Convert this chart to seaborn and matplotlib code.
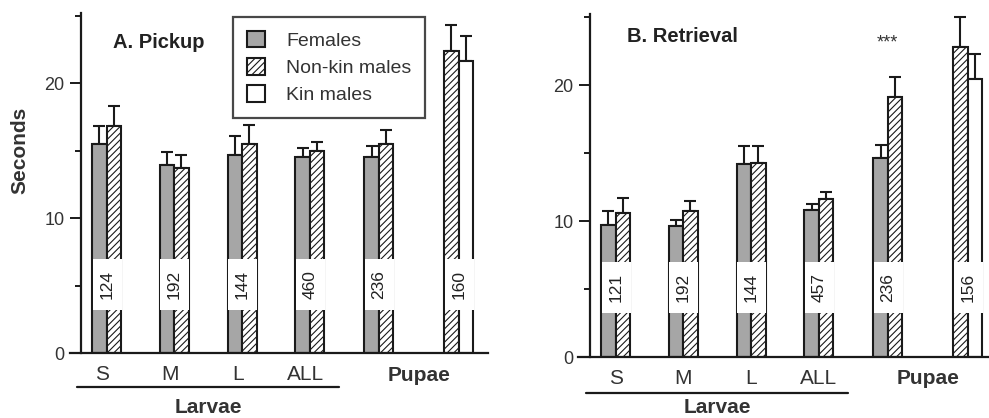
import numpy as np
import matplotlib
matplotlib.use("Agg")
import matplotlib.pyplot as plt
import seaborn as sns
from matplotlib.patches import Patch, Rectangle

# ---- data (seconds, mean and SE) ----
larvae_labels = ["S", "M", "L", "ALL"]
series_names = ["Females", "Non-kin males", "Kin males"]

pickup_female = [15.5, 13.9, 14.7, 14.5, 14.5]
pickup_female_se = [1.3, 1.0, 1.4, 0.7, 0.8]
pickup_nonkin = [16.8, 13.7, 15.5, 15.0, 15.5, 22.4]
pickup_nonkin_se = [1.5, 1.0, 1.4, 0.6, 1.0, 1.9]
pickup_kin = [21.6]
pickup_kin_se = [1.9]
pickup_n = [124, 192, 144, 460, 236, 160]

retr_female = [9.7, 9.6, 14.2, 10.8, 14.6]
retr_female_se = [1.0, 0.5, 1.3, 0.45, 1.0]
retr_nonkin = [10.6, 10.7, 14.3, 11.6, 19.1, 22.8]
retr_nonkin_se = [1.1, 0.8, 1.2, 0.5, 1.5, 2.2]
retr_kin = [20.45]
retr_kin_se = [1.85]
retr_n = [121, 192, 144, 457, 236, 156]

# group centres on the x axis (S, M, L, ALL, pupae F/NK, pupae NK/K)
group_pos = np.array([1.77, 6.42, 11.11, 15.79, 20.54, 26.05])

sns.set_style("ticks")
plt.rcParams["font.family"] = ["Liberation Sans", "DejaVu Sans"]
plt.rcParams["hatch.linewidth"] = 0.8

FEM_COL = "#a6a6a6"
EDGE = "#1a1a1a"
W, H = 989, 418

fig = plt.figure(figsize=(W / 100, H / 100), dpi=100)
fig.patch.set_facecolor("white")


def draw_panel(ax, fem, fem_se, nk, nk_se, kin, kin_se, ns, title, title_xy,
               xlim, tick_shift, line_y, larvae_y, pupae_y, stars=False):
    fem_x = group_pos[:5] - 0.5
    nk_x = np.r_[group_pos[:5] + 0.5, group_pos[5] - 0.5]
    kin_x = group_pos[5:] + 0.5

    for xs, ys, col, hatch in [(fem_x, fem, FEM_COL, None),
                               (nk_x, nk, "white", "/////"),
                               (kin_x, kin, "white", None)]:
        xs = np.asarray(xs)
        nat = np.min(np.diff(np.unique(xs))) if len(xs) > 1 else 1.0
        sns.barplot(x=xs, y=ys, native_scale=True, orient="x", errorbar=None,
                    color=col, saturation=1, width=1.0 / nat,
                    edgecolor=EDGE, linewidth=1.5, hatch=hatch, ax=ax, zorder=2)

    # upper error bars
    for xs, ys, se in [(fem_x, fem, fem_se), (nk_x, nk, nk_se), (kin_x, kin, kin_se)]:
        ax.errorbar(xs, ys, yerr=[np.zeros(len(se)), se], fmt="none",
                    ecolor=EDGE, elinewidth=1.5, capsize=4, capthick=1.5,
                    zorder=1, clip_on=False)

    # white boxes carrying the sample sizes
    for g, n in zip(group_pos, ns):
        ax.add_patch(Rectangle((g - 0.94, 3.2), 2.0, 3.8, facecolor="white",
                               edgecolor="none", zorder=3))
        ax.text(g, 5.1, str(n), rotation=90, ha="center", va="center",
                fontsize=12.5, color="#222222", zorder=4)

    ax.set_xlim(*xlim)
    ax.set_ylim(0, 25.2)
    ax.set_yticks([0, 10, 20])
    ax.set_yticks([5, 15, 25], minor=True)
    ax.tick_params(axis="y", which="major", length=8, width=1.4, labelsize=13,
                   pad=4, colors=EDGE, labelcolor="#333333")
    ax.tick_params(axis="y", which="minor", length=4, width=1.4, colors=EDGE)
    ax.set_xticks(group_pos[:4] + tick_shift)
    ax.set_xticklabels(larvae_labels)
    ax.tick_params(axis="x", length=0, labelsize=15, pad=9, labelcolor="#333333")
    ax.spines["left"].set_position(("data", 0))
    ax.spines["left"].set_bounds(0, 25.2)
    for s in ["left", "bottom"]:
        ax.spines[s].set_linewidth(1.6)
        ax.spines[s].set_color(EDGE)
    for s in ["top", "right"]:
        ax.spines[s].set_visible(False)
    ax.set_facecolor("none")
    ax.set_xlabel("")
    ax.set_ylabel("")

    tr = ax.get_xaxis_transform()
    ax.text((group_pos[4] + group_pos[5]) / 2, pupae_y, "Pupae", transform=tr,
            ha="center", va="center", fontsize=15, fontweight="bold", color="#333333")
    ax.plot([-0.3, 17.8], [line_y, line_y], transform=tr, color=EDGE,
            lw=1.6, clip_on=False)
    ax.text((group_pos[0] + group_pos[3]) / 2, larvae_y, "Larvae", transform=tr,
            ha="center", va="center", fontsize=15, fontweight="bold", color="#333333")
    ax.text(title_xy[0], title_xy[1], title, transform=ax.transAxes, ha="left",
            va="center", fontsize=14.5, fontweight="bold", color="#222222")
    if stars:
        ax.text(group_pos[4], 23.1, "***", ha="center", va="center",
                fontsize=13, color="#333333")


# panel A
axA = fig.add_axes([70 / W, (H - 353) / H, 418 / W, 340.2 / H])
draw_panel(axA, pickup_female, pickup_female_se, pickup_nonkin, pickup_nonkin_se,
           pickup_kin, pickup_kin_se, pickup_n, "A. Pickup", (0.103, 0.914),
           (-0.76, 28.07), -0.3, -0.10, -0.159, -0.0647)

# panel B (runs off the right edge like the original)
axB = fig.add_axes([578 / W, (H - 357) / H, 431 / W, 342.7 / H])
draw_panel(axB, retr_female, retr_female_se, retr_nonkin, retr_nonkin_se,
           retr_kin, retr_kin_se, retr_n, "B. Retrieval", (0.114, 0.934),
           (-0.83, 28.9), 0.0, -0.105, -0.146, -0.0613, stars=True)

fig.text(20 / W, (H - 150) / H, "Seconds", rotation=90, ha="center", va="center",
         fontsize=15, fontweight="bold", color="#333333")

handles = [Patch(facecolor=FEM_COL, edgecolor=EDGE, linewidth=1.5),
           Patch(facecolor="white", edgecolor=EDGE, linewidth=1.5, hatch="/////"),
           Patch(facecolor="white", edgecolor=EDGE, linewidth=1.5)]
leg = axA.legend(handles, series_names, loc="upper left",
                 bbox_to_anchor=(233 / W, 1 - 17 / H), bbox_transform=fig.transFigure,
                 borderaxespad=0, fancybox=False, frameon=True, fontsize=14,
                 handlelength=0.95, handleheight=0.95, handletextpad=1.1,
                 labelspacing=0.42, borderpad=0.7)
leg.get_frame().set_edgecolor(EDGE)
leg.get_frame().set_linewidth(1.6)
for t in leg.get_texts():
    t.set_color("#333333")

fig.savefig("out.png", dpi=100, facecolor="white")
